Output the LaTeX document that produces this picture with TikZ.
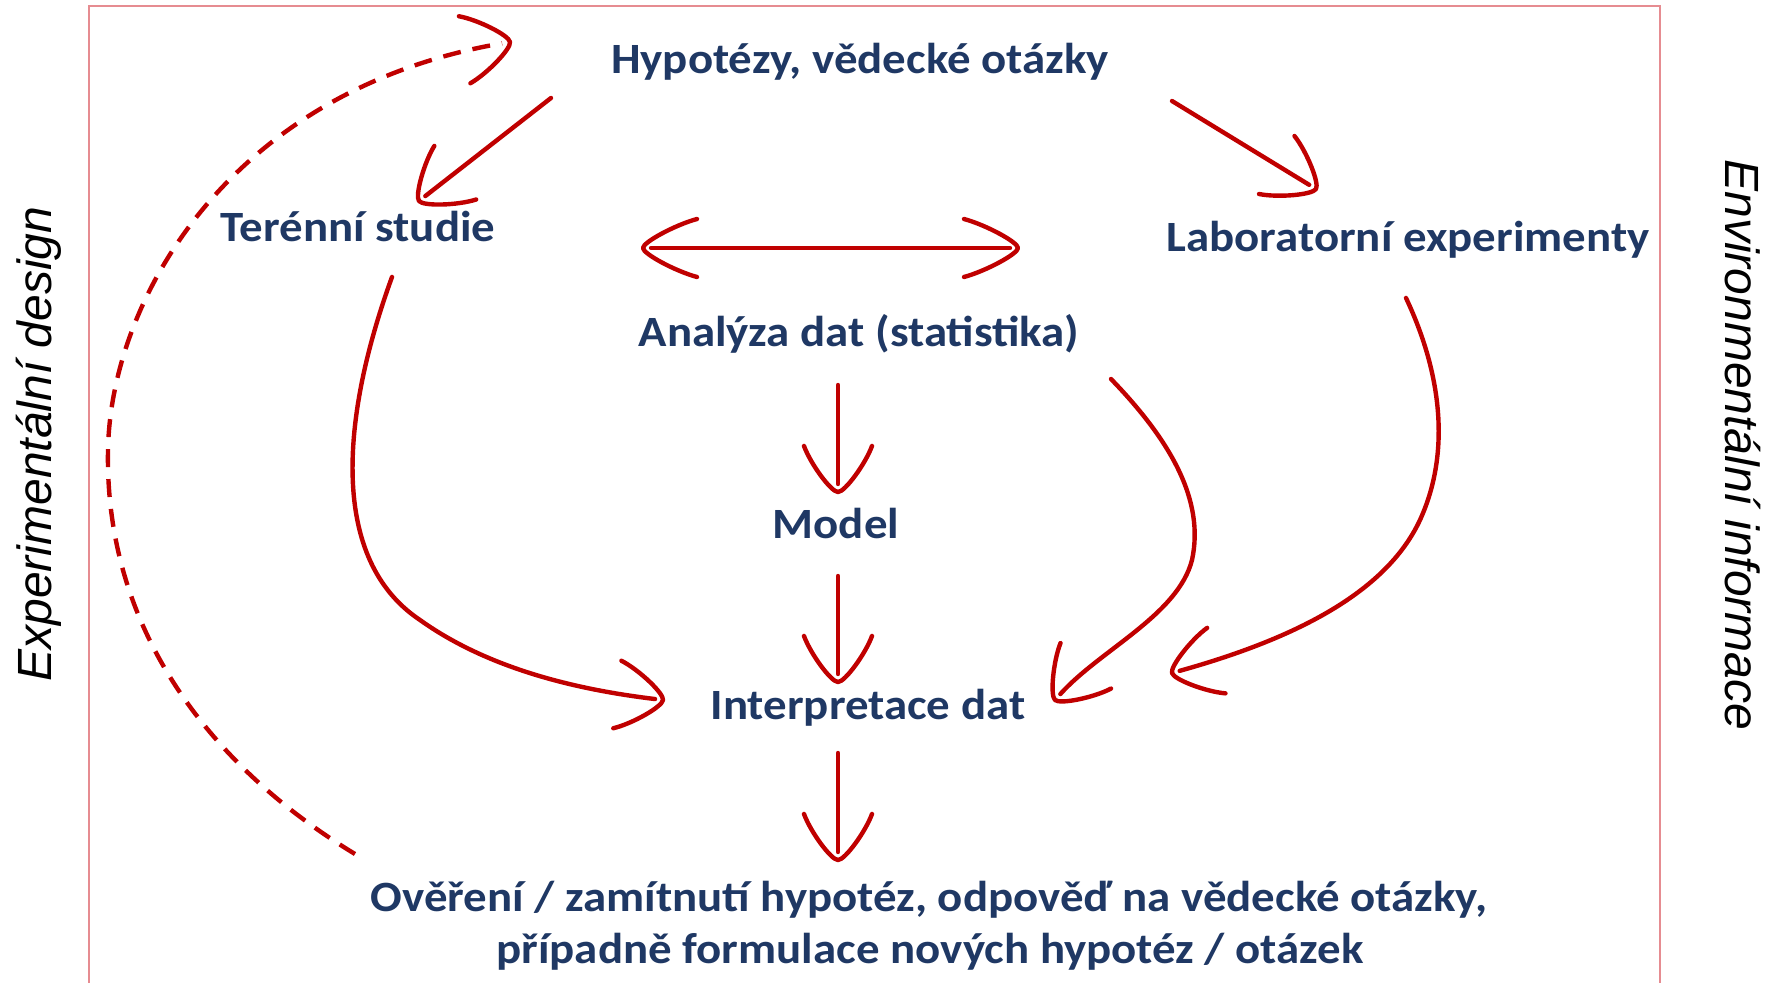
\documentclass[tikz,border=0pt]{standalone}
\usepackage{fontspec}
\setmainfont{Carlito}[FakeStretch=1.085]
\newfontfamily\sidefont{Liberation Sans}
\usetikzlibrary{arrows.meta}
\definecolor{tblue}{HTML}{1F3864}
\definecolor{ared}{HTML}{C00000}
\definecolor{framecol}{RGB}{230,140,145}

\pgfdeclarearrow{
  name = UHead,
  parameters = {\the\pgfarrowlength,\the\pgfarrowwidth},
  setup code = {
    \pgfarrowssettipend{0pt}
    \pgfarrowssetlineend{-4pt}
    \pgfarrowssetbackend{-\pgfarrowlength}
    \pgfarrowshullpoint{0pt}{0pt}
    \pgfarrowsupperhullpoint{-\pgfarrowlength}{.5\pgfarrowwidth}
    \pgfarrowssavethe\pgfarrowlength
    \pgfarrowssavethe\pgfarrowwidth
  },
  drawing code = {
    \pgfsetdash{}{0pt}
    \pgfsetroundcap
    \pgfsetroundjoin
    \pgfpathmoveto{\pgfqpoint{-\pgfarrowlength}{.5\pgfarrowwidth}}
    \pgfpathcurveto{\pgfqpoint{-.6\pgfarrowlength}{.4\pgfarrowwidth}}{\pgfqpoint{0pt}{.1\pgfarrowwidth}}{\pgfqpoint{0pt}{0pt}}
    \pgfpathcurveto{\pgfqpoint{0pt}{-.1\pgfarrowwidth}}{\pgfqpoint{-.6\pgfarrowlength}{-.4\pgfarrowwidth}}{\pgfqpoint{-\pgfarrowlength}{-.5\pgfarrowwidth}}
    \pgfusepathqstroke
  },
  defaults = {length = 23pt, width = 34pt}
}

\begin{document}
\begin{tikzpicture}[x=0.5pt,y=-0.5pt,
  lbl/.style={font=\fontsize{21.6}{26}\selectfont\bfseries, text=tblue, inner sep=0pt, anchor=base},
  side/.style={font=\sidefont\itshape\fontsize{24}{28}\selectfont, text=black, inner sep=0pt},
  conn/.style={draw=ared, line width=2.2pt, line cap=round, -{UHead}},
  dconn/.style={conn, line cap=butt, dash pattern=on 9pt off 6pt}
]
\useasboundingbox (0,0) rectangle (1768,983);
\draw[framecol, line width=1pt] (89,990) -- (89,6) -- (1660,6) -- (1660,990);

% labels
\node[lbl] (hyp) at (860,74) {Hypotézy, vědecké otázky};
\node[lbl] (ter) at (358,242) {Terénní studie};
\node[lbl] (lab) at (1408,252) {Laboratorní experimenty};
\node[lbl] (ana) at (859,347) {Analýza dat (statistika)};
\node[lbl] (mod) at (836,539) {Model};
\node[lbl] (int) at (868,720) {Interpretace dat};
\node[lbl] (ver) at (929,911) {Ověření / zamítnutí hypotéz, odpověď na vědecké otázky,};
\node[lbl] (ver2) at (930,963) {případně formulace nových hypotéz / otázek};

\node[side, rotate=90] (expd) at (39,444) {Experimentální design};
\node[side, rotate=-90] (envi) at (1743,445) {Environmentální informace};

% connector end points
\coordinate (a1s) at (551,98);   \coordinate (a1e) at (419,201);
\coordinate (a2s) at (1172,101); \coordinate (a2e) at (1316,189);
\coordinate (a3s) at (643,248);  \coordinate (a3e) at (1018,248);
\coordinate (a4s) at (838,385);  \coordinate (a4e) at (838,492);
\coordinate (a5s) at (838,576);  \coordinate (a5e) at (838,682);
\coordinate (a6s) at (838,753);  \coordinate (a6e) at (838,860);
\coordinate (a7s) at (392,277);  \coordinate (a7e) at (663,700);
\coordinate (a8s) at (1111,379); \coordinate (a8e) at (1055,700);
\coordinate (a9s) at (1406,298); \coordinate (a9e) at (1172,673);
\coordinate (a10s) at (355,854); \coordinate (a10e) at (510,42);

% connectors
\draw[conn] (a1s) -- (a1e);
\draw[conn] (a2s) -- (a2e);
\draw[conn, {UHead[length=27pt,width=29pt]}-{UHead[length=27pt,width=29pt]}] (a3s) -- (a3e);
\draw[conn] (a4s) -- (a4e);
\draw[conn] (a5s) -- (a5e);
\draw[conn] (a6s) -- (a6e);
\draw[conn] (a7s) .. controls (340,420) and (330,560) .. (420,620)
               .. controls (490,670) and (580,690) .. (a7e);
\draw[conn] (a8s) .. controls (1170,440) and (1205,500) .. (1192,560)
               .. controls (1178,615) and (1100,650) .. (a8e);
\draw[conn] (a9s) .. controls (1440,370) and (1452,450) .. (1420,520)
               .. controls (1385,595) and (1290,640) .. (a9e);
\draw[dconn] (a10s) .. controls (200,760) and (105,620) .. (108,451)
               .. controls (110,300) and (230,90) .. (a10e);
\end{tikzpicture}
\end{document}
